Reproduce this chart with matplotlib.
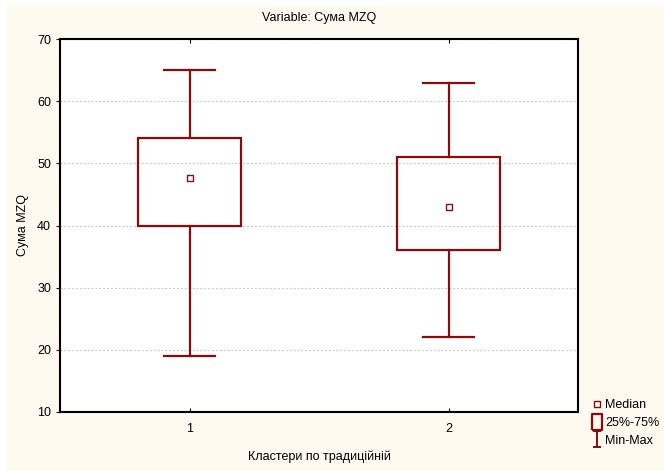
import numpy as np
import matplotlib.pyplot as plt
from matplotlib.lines import Line2D
from matplotlib.patches import Rectangle
from matplotlib.path import Path

plt.rcParams['font.family'] = ['Liberation Sans', 'DejaVu Sans']

# cluster summaries: min, q25, median, q75, max
clusters = [1, 2]
mins = [19, 22]
q25 = [40, 36]
medians = [47.7, 43]
q75 = [54, 51]
maxs = [65, 63]

red = '#8b0a0a'
cream = '#fffaf0'

fig = plt.figure(figsize=(6.64, 4.71), dpi=100)
fig.patch.set_facecolor('white')
fig.patches.append(Rectangle((7 / 664, 0), 1, 1 - 5 / 471, transform=fig.transFigure,
                             facecolor=cream, edgecolor='none', zorder=-10))

ax = fig.add_axes([60 / 664, 1 - 412 / 471, 518 / 664, 373 / 471])
ax.set_facecolor('white')

box_w = 0.4
cap_w = 0.2
for x, lo, a, m, b, hi in zip(clusters, mins, q25, medians, q75, maxs):
    ax.add_patch(Rectangle((x - box_w / 2, a), box_w, b - a, facecolor='none',
                           edgecolor=red, lw=1.6, zorder=3))
    ax.plot([x, x], [b, hi], color=red, lw=1.6, zorder=3)
    ax.plot([x, x], [lo, a], color=red, lw=1.6, zorder=3)
    ax.plot([x - cap_w / 2, x + cap_w / 2], [hi, hi], color=red, lw=1.6, zorder=3)
    ax.plot([x - cap_w / 2, x + cap_w / 2], [lo, lo], color=red, lw=1.6, zorder=3)
    ax.plot([x], [m], marker='s', ms=4.5, mfc='white', mec=red, mew=1.0, zorder=4)

ax.set_xlim(0.5, 2.5)
ax.set_ylim(10, 70)
ax.set_xticks(clusters)
ax.set_xticklabels([str(c) for c in clusters])
ax.set_yticks(np.arange(10, 71, 10))
ax.yaxis.grid(True, color='#c4c4c4', ls=(0, (1.5, 2)), lw=0.8)
ax.set_axisbelow(True)
for s in ax.spines.values():
    s.set_linewidth(1.5)
    s.set_color('black')
ax.tick_params(axis='x', direction='in', length=3, top=True, labelsize=9, pad=8)
ax.tick_params(axis='y', direction='out', length=3, labelsize=9, width=0.8)

ax.set_title('Variable: Сума MZQ', fontsize=9, pad=13)
ax.set_xlabel('Кластери по традиційній', fontsize=9, labelpad=11)
ax.set_ylabel('Сума MZQ', fontsize=9, labelpad=6)

# legend glyphs
box_marker = Path([(-0.5, -0.8), (0.5, -0.8), (0.5, 0.8), (-0.5, 0.8), (-0.5, -0.8)])
minmax_marker = Path([(-0.5, 1), (0.5, 1), (0, 1), (0, -1), (-0.5, -1), (0.5, -1)],
                     [Path.MOVETO, Path.LINETO, Path.MOVETO, Path.LINETO, Path.MOVETO, Path.LINETO])
handles = [
    Line2D([], [], ls='none', marker='s', ms=4, mfc='white', mec=red, mew=1.0),
    Line2D([], [], ls='none', marker=box_marker, ms=12, mfc='none', mec=red, mew=1.6),
    Line2D([], [], ls='none', marker=minmax_marker, ms=11, mfc='none', mec=red, mew=1.4),
]
fig.legend(handles, ['Median', '25%-75%', 'Min-Max'], loc='upper left',
           bbox_to_anchor=(584 / 664, 1 - 393 / 471), frameon=False, fontsize=9,
           handlelength=1.0, handletextpad=0.2, labelspacing=0.45, borderpad=0)

fig.savefig('out.png', dpi=100, facecolor=fig.get_facecolor())
